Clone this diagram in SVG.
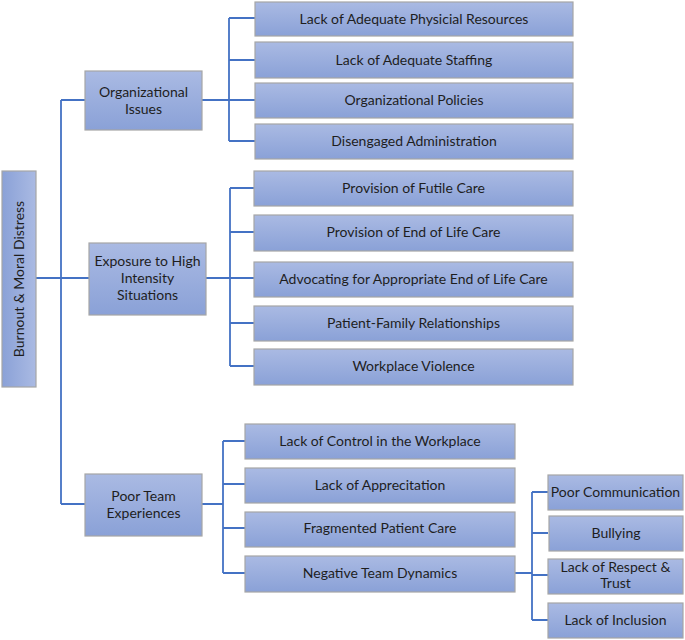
<svg xmlns="http://www.w3.org/2000/svg" width="685" height="640" viewBox="0 0 685 640">
<defs>
<linearGradient id="g" x1="0" y1="0" x2="0" y2="1">
<stop offset="0" stop-color="#AABAE3"/>
<stop offset="1" stop-color="#8AA1D7"/>
</linearGradient>
<linearGradient id="gh" x1="0" y1="0" x2="1" y2="0">
<stop offset="0" stop-color="#8AA1D7"/>
<stop offset="1" stop-color="#AABAE3"/>
</linearGradient>
</defs>
<style>
.b{fill:url(#g);stroke:#A6A6A6;stroke-width:1.2}
.bh{fill:url(#gh);stroke:#A6A6A6;stroke-width:1.2}
.t{font-family:Lato,"Liberation Sans",sans-serif;font-size:14px;fill:#1E1E1E;text-anchor:middle}
.c{fill:none;stroke:#4472C4;stroke-width:1.8}
</style>
<rect width="685" height="640" fill="#ffffff"/>
<g id="connectors">
<path class="c" d="M36 278H61M61 100V504M61 100H85M61 278H89M61 504H85"/>
<path class="c" d="M202 100H255M229 18V141M229 18H255M229 60H255M229 141H255"/>
<path class="c" d="M206 278H254M230 188V366M230 188H254M230 232H254M230 323H254M230 366H254"/>
<path class="c" d="M202 504H223M223 441V573M223 441H245M223 484H245M223 528H245M223 573H245"/>
<path class="c" d="M515 573H532M532 492V620M532 492H548M532 533H548M532 575H548M532 620H548"/>
</g>
<g id="root"><rect class="bh" x="2" y="171" width="34" height="216"/><text class="t" transform="translate(24 279) rotate(-90)">Burnout &amp; Moral Distress</text></g>
<g id="org"><rect class="b" x="85" y="71" width="117" height="59"/><text class="t" x="143.5" y="97">Organizational</text><text class="t" x="143.5" y="114">Issues</text></g>
<g id="exp"><rect class="b" x="89" y="243" width="117" height="72"/><text class="t" x="147.5" y="266">Exposure to High</text><text class="t" x="147.5" y="283">Intensity</text><text class="t" x="147.5" y="300">Situations</text></g>
<g id="team"><rect class="b" x="85" y="474" width="117" height="62"/><text class="t" x="143.5" y="501">Poor Team</text><text class="t" x="143.5" y="518">Experiences</text></g>
<g id="o1"><rect class="b" x="255" y="2" width="318" height="34"/><text class="t" x="414" y="24">Lack of Adequate Physicial Resources</text></g>
<g id="o2"><rect class="b" x="255" y="42" width="318" height="36"/><text class="t" x="414" y="65">Lack of Adequate Staffing</text></g>
<g id="o3"><rect class="b" x="255" y="83" width="318" height="35"/><text class="t" x="414" y="105">Organizational Policies</text></g>
<g id="o4"><rect class="b" x="255" y="124" width="318" height="35"/><text class="t" x="414" y="146">Disengaged Administration</text></g>
<g id="e1"><rect class="b" x="254" y="171" width="319" height="35"/><text class="t" x="413.5" y="193">Provision of Futile Care</text></g>
<g id="e2"><rect class="b" x="254" y="215" width="319" height="36"/><text class="t" x="413.5" y="237">Provision of End of Life Care</text></g>
<g id="e3"><rect class="b" x="254" y="262" width="319" height="35"/><text class="t" x="413.5" y="284">Advocating for Appropriate End of Life Care</text></g>
<g id="e4"><rect class="b" x="254" y="306" width="319" height="35"/><text class="t" x="413.5" y="328">Patient-Family Relationships</text></g>
<g id="e5"><rect class="b" x="254" y="349" width="319" height="36"/><text class="t" x="413.5" y="371">Workplace Violence</text></g>
<g id="p1"><rect class="b" x="245" y="424" width="270" height="35"/><text class="t" x="380" y="446">Lack of Control in the Workplace</text></g>
<g id="p2"><rect class="b" x="245" y="468" width="270" height="35"/><text class="t" x="380" y="490">Lack of Apprecitation</text></g>
<g id="p3"><rect class="b" x="245" y="512" width="270" height="35"/><text class="t" x="380" y="533">Fragmented Patient Care</text></g>
<g id="p4"><rect class="b" x="245" y="556" width="270" height="36"/><text class="t" x="380" y="578">Negative Team Dynamics</text></g>
<g id="n1"><rect class="b" x="548" y="475" width="135" height="35"/><text class="t" x="615.5" y="497">Poor Communication</text></g>
<g id="n2"><rect class="b" x="549" y="516" width="134" height="35"/><text class="t" x="616" y="538">Bullying</text></g>
<g id="n3"><rect class="b" x="548" y="559" width="135" height="35"/><text class="t" x="615.5" y="572">Lack of Respect &amp;</text><text class="t" x="615.5" y="588">Trust</text></g>
<g id="n4"><rect class="b" x="548" y="603" width="135" height="35"/><text class="t" x="615.5" y="625">Lack of Inclusion</text></g>
</svg>
